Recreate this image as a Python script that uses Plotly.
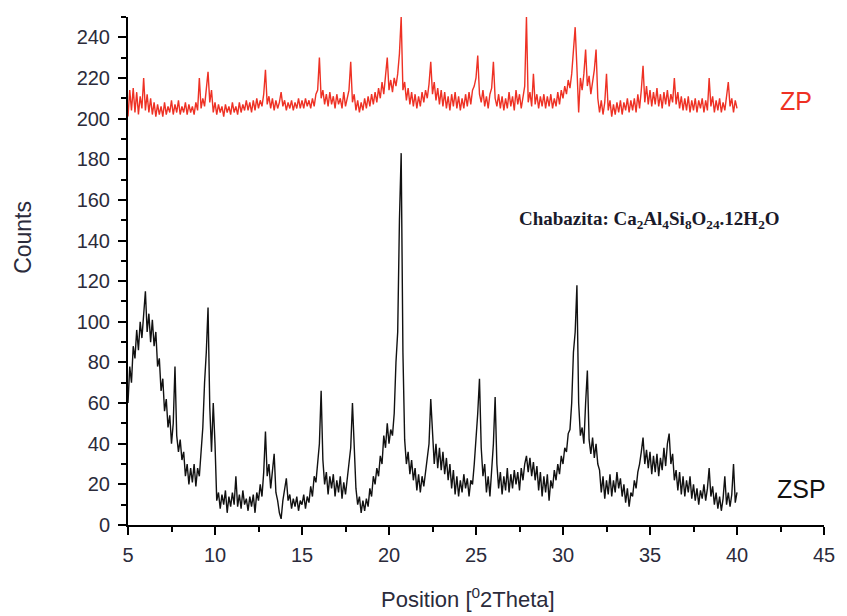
import numpy as np
import plotly.graph_objects as go

# 2-theta sampling grid (degrees), 5.0 to 40.0 in 0.1 steps
two_theta = np.round(np.arange(5.0, 40.0001, 0.1), 1)

# ZSP diffractogram (counts), one row per degree
zsp_counts = [
    60, 78, 70, 88, 82, 96, 86, 100, 92, 104,
    115, 95, 104, 90, 101, 88, 95, 78, 82, 66,
    72, 56, 62, 48, 54, 40, 50, 78, 44, 36,
    42, 32, 36, 24, 30, 20, 28, 21, 30, 19,
    28, 24, 36, 48, 70, 85, 107, 58, 36, 60,
    40, 12, 16, 8, 15, 10, 17, 6, 14, 9,
    16, 10, 24, 9, 15, 8, 17, 10, 13, 7,
    14, 9, 15, 6, 16, 12, 20, 14, 26, 46,
    24, 30, 18, 27, 35, 16, 12, 6, 3, 12,
    18, 23, 12, 15, 8, 13, 9, 14, 7, 12,
    10, 15, 8, 14, 11, 19, 14, 24, 21, 30,
    40, 66, 32, 20, 26, 15, 24, 18, 25, 14,
    22, 16, 24, 13, 21, 15, 22, 28, 38, 60,
    36, 18, 10, 14, 6, 12, 7, 13, 9, 18,
    14, 24, 20, 28, 24, 34, 30, 44, 38, 50,
    40, 47, 44, 55, 80, 95, 150, 183, 85, 42,
    30, 36, 25, 32, 22, 28, 17, 25, 16, 24,
    19, 26, 30, 40, 62, 44, 30, 40, 28, 38,
    27, 36, 25, 33, 22, 30, 18, 27, 15, 24,
    14, 22, 16, 25, 18, 23, 14, 22, 20, 30,
    42, 55, 72, 38, 24, 30, 16, 24, 14, 25,
    40, 63, 30, 18, 26, 15, 24, 17, 28, 16,
    25, 18, 27, 20, 26, 17, 28, 22, 30, 34,
    26, 33, 24, 31, 22, 29, 17, 26, 14, 24,
    16, 25, 12, 22, 18, 27, 22, 30, 25, 34,
    30, 38, 36, 45, 47, 60, 85, 95, 118, 60,
    44, 48, 40, 60, 76, 42, 35, 43, 33, 40,
    30, 27, 16, 24, 13, 22, 15, 25, 14, 22,
    16, 26, 18, 23, 14, 20, 11, 18, 9, 16,
    14, 22, 18, 26, 30, 36, 43, 30, 37, 28,
    36, 25, 34, 26, 35, 24, 33, 27, 38, 29,
    40, 45, 30, 35, 22, 27, 17, 26, 15, 24,
    14, 22, 16, 24, 13, 20, 12, 18, 10, 17,
    13, 20, 12, 18, 28, 14, 19, 10, 16, 8,
    14, 7, 13, 24, 10, 16, 9, 15, 30, 11,
    16,
]

# ZP diffractogram (counts, offset trace), one row per degree
zp_counts = [
    201, 214, 204, 215, 203, 213, 202, 211, 205, 220,
    204, 212, 203, 210, 202, 208, 201, 207, 202, 206,
    201, 208, 202, 206, 203, 209, 202, 207, 203, 209,
    202, 206, 203, 208, 202, 207, 203, 206, 202, 208,
    204, 220, 205, 210, 206, 215, 223, 208, 214, 203,
    208, 202, 207, 203, 206, 201, 207, 203, 206, 202,
    208, 203, 206, 202, 208, 203, 207, 204, 209, 204,
    208, 203, 209, 204, 210, 205, 209, 206, 212, 224,
    207, 211, 205, 210, 204, 209, 205, 208, 213, 206,
    209, 204, 208, 205, 209, 204, 208, 205, 210, 205,
    209, 205, 210, 206, 209, 205, 210, 206, 212, 214,
    230, 210, 214, 207, 212, 206, 213, 207, 211, 205,
    212, 207, 210, 205, 213, 206, 211, 214, 228, 208,
    212, 204, 209, 203, 208, 204, 210, 205, 211, 206,
    212, 207, 213, 208, 215, 210, 218, 212, 221, 230,
    214, 219, 213, 220, 216, 222, 232, 250, 214, 218,
    209, 215, 207, 213, 206, 212, 205, 211, 206, 213,
    208, 214, 210, 217, 228, 212, 218, 209, 215, 207,
    214, 206, 213, 205, 211, 204, 212, 206, 213, 205,
    211, 204, 210, 205, 212, 206, 213, 207, 214, 216,
    220, 231, 212, 208, 214, 206, 211, 205, 212, 215,
    228, 210, 206, 212, 205, 211, 204, 210, 205, 213,
    206, 211, 204, 214, 207, 212, 205, 211, 216, 250,
    208, 213, 206, 222, 207, 212, 205, 211, 206, 212,
    205, 211, 206, 212, 205, 210, 206, 213, 207, 214,
    210, 216, 212, 219, 215, 222, 235, 245, 225, 203,
    220, 214, 222, 234, 216, 221, 212, 218, 224, 234,
    210, 203, 209, 202, 208, 222, 204, 209, 201, 207,
    202, 208, 203, 209, 202, 208, 204, 210, 203, 209,
    204, 210, 203, 212, 205, 214, 226, 208, 216, 207,
    214, 206, 213, 207, 215, 206, 212, 205, 213, 207,
    214, 206, 212, 208, 220, 207, 213, 205, 211, 204,
    210, 204, 211, 203, 209, 204, 210, 203, 209, 205,
    210, 203, 209, 204, 220, 206, 211, 203, 209, 204,
    210, 203, 208, 204, 210, 218, 206, 210, 203, 209,
    205,
]

x_ticks = [5, 10, 15, 20, 25, 30, 35, 40, 45]
y_ticks = [0, 20, 40, 60, 80, 100, 120, 140, 160, 180, 200, 220, 240]

sans = "Liberation Sans, Arial, sans-serif"
tick_font = dict(family=sans, size=20, color="#2b2b3b")

fig = go.Figure()
fig.add_trace(go.Scatter(x=two_theta, y=zsp_counts, mode="lines",
                         line=dict(color="#111111", width=1.4), name="ZSP"))
fig.add_trace(go.Scatter(x=two_theta, y=zp_counts, mode="lines",
                         line=dict(color="#EE3124", width=1.4), name="ZP"))

fig.update_layout(
    width=847, height=616,
    margin=dict(l=128, r=18, t=17, b=91),
    paper_bgcolor="white", plot_bgcolor="white",
    showlegend=False,
    xaxis=dict(range=[5, 45], tickvals=x_ticks, ticks="outside", ticklen=8,
               tickwidth=2, tickcolor="black", showline=True, linecolor="black",
               linewidth=2, showgrid=False, zeroline=False, tickfont=tick_font,
               ticklabelstandoff=3,
               minor=dict(dtick=2.5, tick0=5, ticks="outside", ticklen=5,
                          tickwidth=2, tickcolor="black", showgrid=False)),
    yaxis=dict(range=[0, 250], tickvals=y_ticks, ticks="outside", ticklen=8,
               tickwidth=2, tickcolor="black", showline=True, linecolor="black",
               linewidth=2, showgrid=False, zeroline=False, tickfont=tick_font,
               ticklabelstandoff=4,
               minor=dict(dtick=10, tick0=0, ticks="outside", ticklen=5,
                          tickwidth=2, tickcolor="black", showgrid=False)),
)

fig.add_annotation(text="Counts", textangle=-90, xref="paper", yref="paper",
                   x=-0.151, y=0.567, xanchor="center", yanchor="middle",
                   showarrow=False, font=dict(family=sans, size=23, color="#2b2b3b"))
fig.add_annotation(text="Position [<sup>0</sup>2Theta]", xref="paper", yref="paper",
                   x=0.488, y=-0.1437, xanchor="center", yanchor="middle",
                   showarrow=False, font=dict(family=sans, size=22, color="#2b2b3b"))
fig.add_annotation(text="ZP", x=43.4, y=208.5, xanchor="center", yanchor="middle",
                   showarrow=False, font=dict(family=sans, size=25, color="#EE3124"))
fig.add_annotation(text="ZSP", x=43.7, y=17.7, xanchor="center", yanchor="middle",
                   showarrow=False, font=dict(family=sans, size=25, color="#111111"))
fig.add_annotation(
    text="<b>Chabazita: Ca<sub>2</sub>Al<sub>4</sub>Si<sub>8</sub>O<sub>24</sub>.12H<sub>2</sub>O</b>",
    x=27.36, y=150, xanchor="left", yanchor="middle", showarrow=False,
    font=dict(family="Liberation Serif, Times New Roman, serif", size=19, color="#1a1a2a"))

fig.write_html("out.html")
